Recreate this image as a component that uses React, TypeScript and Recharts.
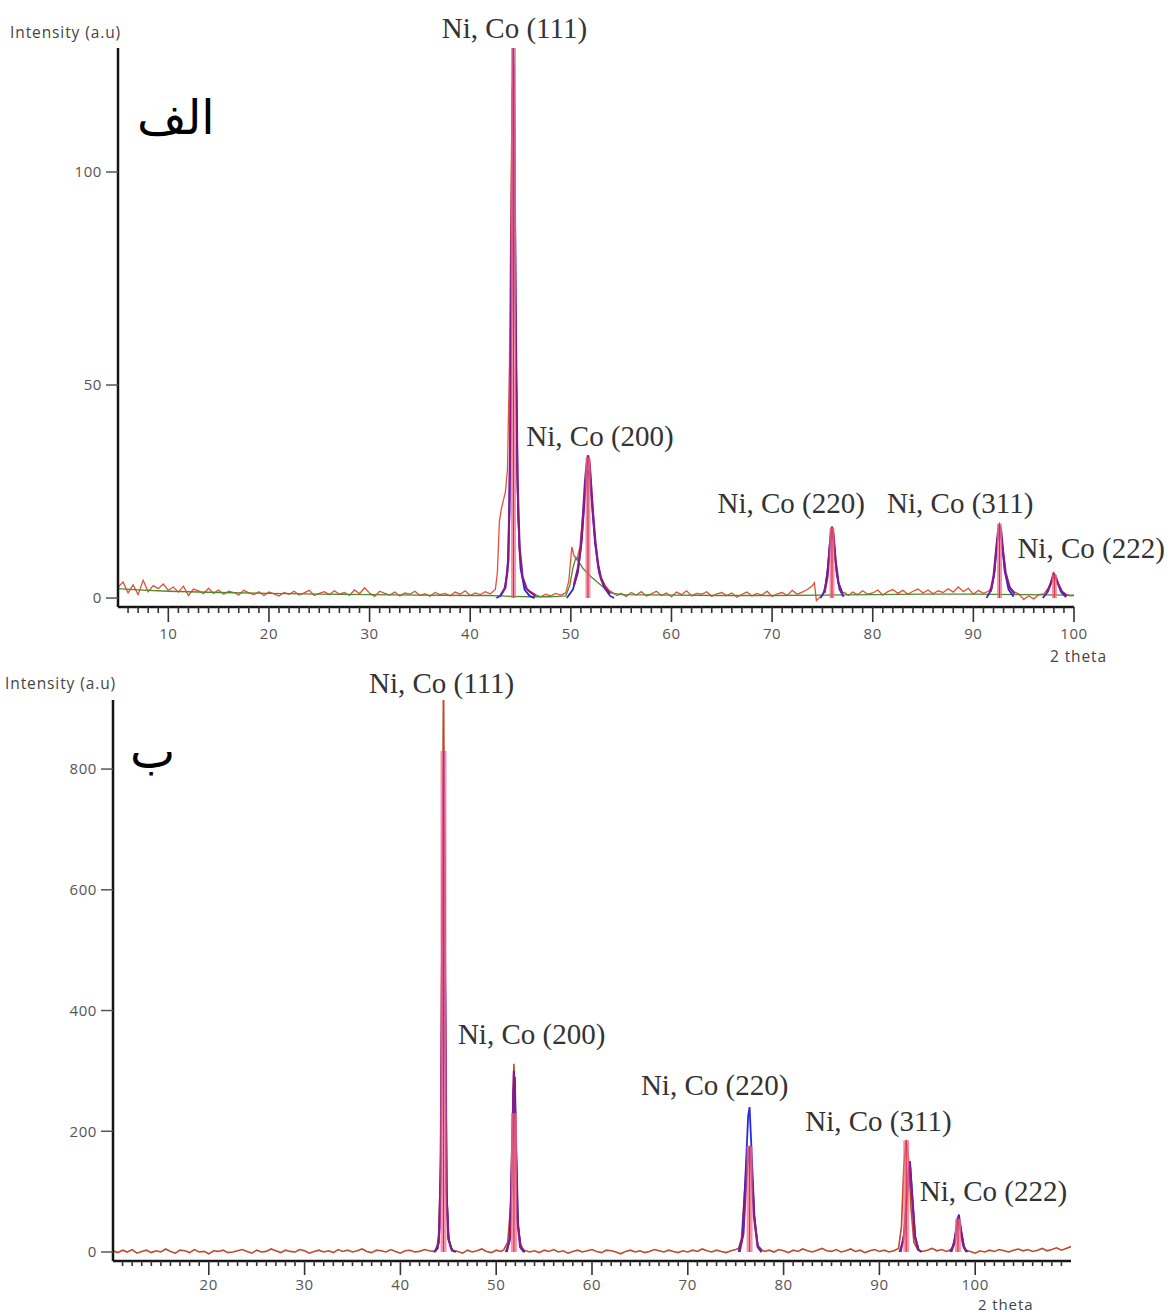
import React from 'react';
import { LineChart, Line, XAxis, YAxis, ReferenceLine, ReferenceDot } from 'recharts';

// ---- panel A (الف) : 2θ 5..100 ----
const RAW_A: [number, number][] = [
  [5, 2.5], [5.5, 3.8], [6, 1.2], [6.5, 3.1], [7, 0.8], [7.5, 4.2], [8, 1.5], [8.5, 2.9], [9, 2.2], [9.5, 3.3],
  [10, 1.8], [10.5, 2.6], [11, 1.4], [11.5, 2.8], [12, 0.6], [12.5, 2.1], [13, 1.7], [13.5, 1.0], [14, 2.3], [14.5, 1.1],
  [15, 1.9], [15.5, 0.9], [16, 1.6], [16.5, 1.3], [17, 0.7], [17.5, 1.8], [18, 1.2], [18.5, 0.8], [19, 1.5], [19.5, 0.6],
  [20, 1.4], [20.5, 1.0], [21, 0.5], [21.5, 1.3], [22, 0.9], [22.5, 1.6], [23, 0.7], [23.5, 1.2], [24, 1.8], [24.5, 0.6],
  [25, 1.1], [25.5, 1.5], [26, 0.8], [26.5, 1.7], [27, 0.9], [27.5, 1.3], [28, 0.6], [28.5, 1.9], [29, 1.0], [29.5, 2.4],
  [30, 1.2], [30.5, 0.4], [31, 1.6], [31.5, 1.1], [32, 0.7], [32.5, 1.4], [33, 0.5], [33.5, 1.2], [34, 0.9], [34.5, 1.6],
  [35, 0.6], [35.5, 1.0], [36, 0.4], [36.5, 1.3], [37, 0.8], [37.5, 1.1], [38, 0.5], [38.5, 1.4], [39, 0.9], [39.5, 1.7],
  [40, 0.6], [40.5, 1.2], [41, 0.8], [41.5, 1.5], [42, 1.0], [42.5, 2.0],
  [42.7, 6], [42.9, 18], [43.1, 21], [43.3, 23], [43.5, 25], [43.7, 30], [43.9, 55], [44.1, 105], [44.3, 140],
  [44.5, 70], [44.7, 25], [44.9, 10], [45.2, 5], [45.5, 2.5], [46, 1.5], [46.5, 0.8], [47, 0.3], [47.5, 0.9],
  [48, 0.5], [48.5, 1.1], [49, 0.7], [49.5, 1.2], [49.8, 4], [50.1, 12], [50.3, 10], [50.6, 9], [50.9, 12],
  [51.2, 20], [51.5, 29], [51.7, 33], [51.9, 31], [52.1, 24], [52.4, 14], [52.7, 8], [53, 5], [53.4, 3],
  [53.8, 1.8], [54.2, 1.2], [54.6, 0.6],
  [55, 1.1], [55.5, 0.4], [56, 1.3], [56.5, 0.7], [57, 1.5], [57.5, 0.5], [58, 1.0], [58.5, 1.6], [59, 0.6], [59.5, 1.2],
  [60, 0.3], [60.5, 1.4], [61, 0.8], [61.5, 1.7], [62, 0.5], [62.5, 1.1], [63, 0.9], [63.5, 1.5], [64, 0.4], [64.5, 1.0],
  [65, 1.3], [65.5, 0.6], [66, 1.2], [66.5, 0.2], [67, 0.9], [67.5, 1.4], [68, 0.5], [68.5, 1.1], [69, 0.7], [69.5, 1.6],
  [70, 0.4], [70.5, 1.0], [71, 1.3], [71.5, 0.6], [72, 1.8], [72.5, 0.9], [73, 1.4], [73.5, 2.0], [74, 2.9], [74.2, 3.6],
  [74.4, -0.6], [74.7, 0.1], [75, 0.7], [75.3, 3], [75.6, 9], [75.8, 15], [75.95, 16.8], [76.1, 15], [76.3, 9],
  [76.6, 3.5], [77, 1.2],
  [77.2, 1.3], [77.6, 0.6], [78, 1.4], [78.5, 0.8], [79, 1.7], [79.5, 0.9], [80, 1.2], [80.5, 1.9], [81, 0.7], [81.5, 1.5],
  [82, 2.0], [82.5, 1.1], [83, 1.8], [83.5, 0.9], [84, 1.6], [84.5, 2.1], [85, 1.2], [85.5, 1.9], [86, 1.0], [86.5, 1.7],
  [87, 1.3], [87.5, 2.2], [88, 1.4], [88.5, 2.6], [89, 1.5], [89.5, 2.3], [90, 0.9], [90.5, 1.8], [91, 1.1], [91.5, 1.6],
  [91.8, 2.5], [92.1, 6], [92.3, 12], [92.5, 17], [92.7, 16], [92.9, 12], [93.2, 6], [93.5, 3], [94, 1.5], [94.5, 1],
  [95, -0.3], [95.5, 0.5], [96, -0.2], [96.5, 0.8], [97, 1.0], [97.5, 2.5], [97.8, 4.5], [98, 6], [98.2, 5],
  [98.5, 3], [98.8, 1.5], [99.2, 0.8], [99.6, 0.5], [100, 0.6],
];

const BLUE_A: [number, number | null][] = [
  [42.6, 0], [43.0, 0.5], [43.4, 2], [43.7, 6], [43.9, 20], [44.1, 70], [44.25, 132], [44.4, 110], [44.55, 55],
  [44.75, 20], [45.0, 7], [45.4, 2], [45.9, 0.5], [46.4, 0], [47, null],
  [49.6, 0], [50.2, 2], [50.7, 6], [51.1, 14], [51.4, 24], [51.65, 30], [51.85, 29], [52.1, 22], [52.4, 13],
  [52.8, 6], [53.3, 2.5], [53.9, 0.5], [54.3, 0], [60, null],
  [74.8, 0], [75.2, 1.5], [75.5, 6], [75.75, 13], [75.95, 16], [76.15, 13], [76.4, 6], [76.7, 2], [77.1, 0.3], [80, null],
  [91.3, 0], [91.8, 2], [92.1, 6], [92.35, 13], [92.6, 16.5], [92.85, 13], [93.1, 6.5], [93.5, 2], [94, 0.3], [95, null],
  [96.9, 0], [97.4, 1.5], [97.8, 4], [98.05, 5.2], [98.3, 4], [98.7, 1.5], [99.2, 0.2],
];

const PURPLE_A: [number, number | null][] = [
  [43.0, 0.6], [43.5, 2.5], [43.8, 9], [44.0, 40], [44.2, 118], [44.35, 125], [44.5, 70], [44.7, 28], [44.9, 12],
  [45.2, 5], [45.6, 2.2], [46.0, 1.3], [46.5, 0.5], [47, null],
  [50.3, 3], [50.7, 7], [51.0, 12], [51.2, 19], [51.4, 27], [51.55, 31], [51.7, 33.5], [51.85, 32], [52.0, 27],
  [52.2, 20], [52.45, 13], [52.7, 8], [53.0, 4.5], [53.4, 2.5], [53.9, 1.0], [60, null],
  [75.2, 1.2], [75.5, 5], [75.7, 11], [75.85, 15.5], [75.95, 16.7], [76.1, 15], [76.3, 9], [76.6, 3.5], [77.0, 1.0], [80, null],
  [91.7, 1.5], [92.0, 5], [92.25, 11], [92.45, 15.5], [92.6, 17], [92.75, 16], [92.95, 11], [93.2, 6], [93.6, 2.5],
  [94.1, 1.0], [95, null],
  [97.3, 1.2], [97.7, 3.5], [97.95, 5.6], [98.15, 5.2], [98.4, 3.5], [98.8, 1.5], [99.3, 0.5],
];

const GREEN_A: [number, number][] = [
  [5, 2.2], [7, 1.9], [10, 1.6], [15, 1.3], [20, 1.1], [25, 0.9], [30, 0.8], [35, 0.7], [40, 0.6], [42, 0.6],
  [43, 0.5], [44, 0.4], [46, 0.3], [48, 0.3], [49.5, 0.5], [49.9, 3], [50.2, 7], [50.5, 9.5], [50.8, 8.5],
  [51.2, 7], [51.6, 6], [52, 5], [52.5, 4], [53, 3], [53.5, 2], [54, 1.2], [55, 0.8], [60, 0.7], [65, 0.6],
  [70, 0.6], [75, 0.7], [80, 0.8], [85, 0.9], [90, 0.9], [95, 0.8], [100, 0.7],
];

const STICKS_A: [number, number][] = [[44.3, 130], [51.7, 33], [75.95, 16.5], [92.6, 17.5], [98.05, 5.5]];

// ---- panel B (ب) : 2θ 10..110 ----
const RAW_B: [number, number][] = [
  [10, 2], [10.5, -1], [11, 3], [11.5, 0], [12, 4], [12.5, -2], [13, 1], [13.5, 3], [14, -1], [14.5, 2],
  [15, 0], [15.5, 5], [16, 1], [16.5, -2], [17, 3], [17.5, 2], [18, -1], [18.5, 4], [19, 0], [19.5, 1],
  [20, -3], [20.5, 2], [21, 1], [21.5, 3], [22, -1], [22.5, 0], [23, 2], [23.5, 4], [24, 1], [24.5, -2],
  [25, 3], [25.5, 0], [26, 1], [26.5, 5], [27, 2], [27.5, -1], [28, 3], [28.5, 1], [29, 0], [29.5, 4],
  [30, 2], [30.5, -2], [31, 1], [31.5, 3], [32, 0], [32.5, 2], [33, -1], [33.5, 4], [34, 1], [34.5, 3],
  [35, 0], [35.5, 2], [36, 5], [36.5, 1], [37, -1], [37.5, 3], [38, 2], [38.5, 0], [39, 4], [39.5, 1],
  [40, -2], [40.5, 2], [41, 3], [41.5, 0], [42, 1], [42.5, 4], [43, 2], [43.5, 1],
  [43.8, 4], [44.0, 28], [44.2, 140], [44.35, 560], [44.5, 960], [44.65, 520], [44.8, 110], [45.0, 30],
  [45.2, 9], [45.5, 3],
  [46, 1], [46.5, -2], [47, 3], [47.5, 0], [48, 2], [48.5, 5], [49, 1], [49.5, -1], [50, 3], [50.5, 1], [50.8, 4],
  [51.2, 16], [51.5, 75], [51.7, 215], [51.85, 312], [52.0, 225], [52.2, 62], [52.5, 13], [52.9, 3],
  [53.5, 0], [54, 2], [54.5, -1], [55, 3], [55.5, 1], [56, 4], [56.5, 0], [57, 2], [57.5, -2], [58, 1],
  [58.5, 3], [59, 0], [59.5, 2], [60, 4], [60.5, 1], [61, -1], [61.5, 3], [62, 2], [62.5, 0], [63, -3],
  [63.5, 1], [64, 3], [64.5, 0], [65, 2], [65.5, -1], [66, 1], [66.5, 4], [67, 2], [67.5, 0], [68, 3],
  [68.5, 1], [69, -1], [69.5, 2], [70, 0], [70.5, 3], [71, 1], [71.5, 5], [72, 2], [72.5, 0], [73, 3],
  [73.5, 1], [74, -1], [74.5, 2], [75, 4],
  [75.3, 6], [75.6, 22], [75.9, 92], [76.2, 165], [76.45, 173], [76.7, 132], [77.0, 45], [77.3, 11], [77.7, 4],
  [78, 1], [78.5, 3], [79, 0], [79.5, 4], [80, 2], [80.5, -1], [81, 3], [81.5, 1], [82, 5], [82.5, 2],
  [83, 0], [83.5, 3], [84, 6], [84.5, 2], [85, 1], [85.5, 4], [86, 0], [86.5, 2], [87, 5], [87.5, 1],
  [88, 3], [88.5, -1], [89, 2], [89.5, 4], [90, 1], [90.5, 3], [91, 0], [91.5, 2],
  [92.0, 6], [92.3, 42], [92.55, 142], [92.8, 186], [93.05, 152], [93.3, 72], [93.6, 16], [94.0, 4],
  [94.5, 1], [95, 3], [95.5, 6], [96, 2], [96.5, 4], [97, 1], [97.3, 3],
  [97.6, 6], [97.9, 26], [98.2, 56], [98.45, 44], [98.7, 13], [99.0, 3],
  [99.5, 1], [100, -2], [100.5, 2], [101, 0], [101.5, 3], [102, 1], [102.5, 4], [103, 2], [103.5, 0],
  [104, 3], [104.5, 5], [105, 2], [105.5, 4], [106, 1], [106.5, 3], [107, 6], [107.5, 2], [108, 4],
  [108.5, 7], [109, 3], [109.5, 6], [110, 9],
];

const BLUE_B: [number, number | null][] = [
  [43.5, 0], [43.9, 6], [44.1, 40], [44.25, 180], [44.4, 560], [44.55, 830], [44.7, 420], [44.85, 90],
  [45.05, 20], [45.4, 2], [45.8, 0], [47, null],
  [51.0, 0], [51.4, 18], [51.6, 110], [51.8, 270], [51.95, 290], [52.1, 170], [52.3, 40], [52.6, 6], [53.0, 0], [60, null],
  [75.3, 0], [75.7, 25], [76.0, 120], [76.3, 225], [76.45, 240], [76.65, 170], [76.95, 60], [77.3, 10], [77.7, 0], [80, null],
  [92.1, 0], [92.5, 20], [92.8, 70], [93.05, 140], [93.2, 150], [93.45, 90], [93.75, 25], [94.1, 3], [94.4, 0], [95, null],
  [97.4, 0], [97.8, 15], [98.1, 50], [98.3, 62], [98.55, 35], [98.85, 8], [99.2, 0],
];

const PURPLE_B: [number, number | null][] = [
  [43.6, 0], [44.0, 15], [44.2, 120], [44.35, 480], [44.5, 800], [44.65, 450], [44.8, 100], [45.0, 22], [45.4, 2], [47, null],
  [51.1, 0], [51.45, 25], [51.65, 160], [51.85, 300], [52.0, 210], [52.2, 55], [52.5, 8], [52.9, 0], [60, null],
  [75.4, 0], [75.8, 30], [76.1, 120], [76.4, 175], [76.6, 150], [76.9, 60], [77.3, 8], [77.7, 0], [80, null],
  [92.2, 0], [92.6, 30], [92.9, 100], [93.15, 150], [93.4, 95], [93.7, 25], [94.1, 2], [95, null],
  [97.5, 0], [97.9, 18], [98.2, 58], [98.45, 38], [98.8, 8], [99.1, 0],
];

const STICKS_B: [number, number][] = [[44.5, 830], [51.85, 230], [76.45, 175], [92.8, 185], [98.2, 55]];

const PEAKS = ['Ni, Co (111)', 'Ni, Co (200)', 'Ni, Co (220)', 'Ni, Co (311)', 'Ni, Co (222)'];
// label anchors in data units
const ANCHOR_A: [number, number][] = [[44.4, 133.8], [52.9, 38], [71.9, 22.3], [88.7, 22.3], [101.7, 11.7]];
const ANCHOR_B: [number, number][] = [[44.3, 942], [53.7, 361], [72.8, 276], [89.9, 217], [101.9, 101]];

const TICKS_A = Array.from({ length: 95 }, (_, i) => i + 6);
const TICKS_B = Array.from({ length: 99 }, (_, i) => i + 11);

const toPts = (arr: [number, number | null][]) => arr.map(([x, y]) => ({ x, y }));

const BORDER = { stroke: '#151515', strokeWidth: 2.5 };
const TICK_FONT = "'Open Sans', 'DejaVu Sans', sans-serif";
const SERIF = "'Liberation Serif', 'Times New Roman', serif";

const makeXTick = (bigLen: number, smallLen: number, labelDy: number) => (props: any) => {
  const { x, y, payload } = props;
  const major = payload.value % 10 === 0;
  return (
    <g>
      <line x1={x} x2={x} y1={y} y2={y + (major ? bigLen : smallLen)} stroke="#333" strokeWidth={1.6} />
      {major && (
        <text x={x} y={y + labelDy} textAnchor="middle" fill="#555" fontSize={15} letterSpacing={0.6} fontFamily={TICK_FONT}>
          {payload.value}
        </text>
      )}
    </g>
  );
};

const peakLabel = (text: string) => (p: any) => (
  <text x={p.cx} y={p.cy} textAnchor="middle" dominantBaseline="central" fontFamily={SERIF} fontSize={29} fill="#333">
    {text}
  </text>
);

interface PanelProps {
  width: number;
  height: number;
  margin: { top: number; right: number; bottom: number; left: number };
  xDomain: [number, number];
  yDomain: [number, number];
  yTicks: number[];
  xTicks: number[];
  raw: [number, number][];
  rawColor: string;
  rawWidth: number;
  blue: [number, number | null][];
  purple: [number, number | null][];
  green?: [number, number][];
  sticks: [number, number][];
  stickWidth: number;
  anchors: [number, number][];
  topBorder: any;
  bigTick: number;
  smallTick: number;
  labelDy: number;
}

function Panel(p: PanelProps) {
  return (
    <LineChart width={p.width} height={p.height} margin={p.margin}>
      <XAxis
        dataKey="x"
        type="number"
        domain={p.xDomain}
        allowDataOverflow
        ticks={p.xTicks}
        interval={0}
        height={40}
        tickSize={0}
        tickMargin={0}
        tickLine={false}
        axisLine={BORDER}
        tick={makeXTick(p.bigTick, p.smallTick, p.labelDy)}
      />
      <XAxis xAxisId="top" orientation="top" type="number" domain={p.xDomain} height={0} tick={false} tickLine={false} axisLine={p.topBorder} />
      <YAxis
        type="number"
        domain={p.yDomain}
        allowDataOverflow
        ticks={p.yTicks}
        width={60}
        tickSize={12}
        tickMargin={4}
        tickLine={{ stroke: '#555', strokeWidth: 1.5 }}
        axisLine={BORDER}
        tick={{ fill: '#555', fontSize: 15, fontFamily: TICK_FONT, letterSpacing: 0.6 }}
      />
      <YAxis yAxisId="right" orientation="right" type="number" domain={[0, 1]} width={0} tick={false} tickLine={false} axisLine={BORDER} />
      <Line data={toPts(p.raw)} dataKey="y" stroke={p.rawColor} strokeWidth={p.rawWidth} dot={false} isAnimationActive={false} />
      {p.green && (
        <Line data={toPts(p.green)} dataKey="y" stroke="#4f8a2c" strokeWidth={1.3} dot={false} isAnimationActive={false} />
      )}
      <Line data={toPts(p.blue)} dataKey="y" stroke="#2a2ad8" strokeWidth={1.8} dot={false} isAnimationActive={false} connectNulls={false} />
      <Line data={toPts(p.purple)} dataKey="y" stroke="#8a1a86" strokeWidth={2.2} dot={false} isAnimationActive={false} connectNulls={false} />
      {p.sticks.map(([x, h]) => (
        <ReferenceLine
          key={x}
          segment={[{ x, y: 0 }, { x, y: h }]}
          stroke="#f0708e"
          strokeOpacity={0.75}
          strokeWidth={p.stickWidth}
          ifOverflow="hidden"
        />
      ))}
      {p.sticks.map(([x, h]) => (
        <ReferenceLine key={'c' + x} segment={[{ x, y: 0 }, { x, y: h }]} stroke="#d8283c" strokeWidth={1} ifOverflow="hidden" />
      ))}
      {p.anchors.map(([x, y], i) => (
        <ReferenceDot key={PEAKS[i]} x={x} y={y} r={0} ifOverflow="visible" shape={peakLabel(PEAKS[i])} />
      ))}
    </LineChart>
  );
}

const axisTitle: React.CSSProperties = {
  position: 'absolute',
  fontFamily: TICK_FONT,
  fontSize: 15.5,
  letterSpacing: 0.9,
  color: '#444',
  whiteSpace: 'nowrap',
  lineHeight: '18px',
};

const arabic: React.CSSProperties = {
  position: 'absolute',
  fontFamily: "'DejaVu Sans', serif",
  fontSize: 48,
  direction: 'rtl',
  lineHeight: '70px',
  color: '#000',
};

export default function App() {
  return (
    <div style={{ position: 'absolute', left: 0, top: 0, width: 1172, height: 1314, background: '#fff', overflow: 'hidden' }}>
      <div style={{ position: 'absolute', left: 0, top: 0 }}>
        <Panel
          width={1172}
          height={660}
          margin={{ top: 48, right: 98, bottom: 13, left: 58 }}
          xDomain={[5, 100]}
          yDomain={[-2.1, 129.1]}
          yTicks={[0, 50, 100]}
          xTicks={TICKS_A}
          raw={RAW_A}
          rawColor="#e2503a"
          rawWidth={1.3}
          blue={BLUE_A}
          purple={PURPLE_A}
          green={GREEN_A}
          sticks={STICKS_A}
          stickWidth={5}
          anchors={ANCHOR_A}
          topBorder={BORDER}
          bigTick={15}
          smallTick={6}
          labelDy={32}
        />
      </div>
      <div style={{ position: 'absolute', left: 0, top: 660 }}>
        <Panel
          width={1172}
          height={654}
          margin={{ top: 40, right: 101, bottom: 13, left: 53 }}
          xDomain={[10, 110]}
          yDomain={[-14.9, 914.4]}
          yTicks={[0, 200, 400, 600, 800]}
          xTicks={TICKS_B}
          raw={RAW_B}
          rawColor="#bf4a2c"
          rawWidth={1.6}
          blue={BLUE_B}
          purple={PURPLE_B}
          sticks={STICKS_B}
          stickWidth={6}
          anchors={ANCHOR_B}
          topBorder={{ stroke: '#8a8a8a', strokeWidth: 1.5 }}
          bigTick={14}
          smallTick={5}
          labelDy={29}
        />
      </div>
      <div style={{ ...axisTitle, left: 10, top: 23 }}>Intensity (a.u)</div>
      <div style={{ ...axisTitle, left: 1050, top: 647 }}>2 theta</div>
      <div style={{ ...axisTitle, left: 5, top: 674 }}>Intensity (a.u)</div>
      <div style={{ ...axisTitle, left: 978, top: 1296, fontSize: 15, lineHeight: '16px' }}>2 theta</div>
      <div style={{ ...arabic, left: 137, top: 82 }}>الف</div>
      <div style={{ ...arabic, left: 130, top: 716 }}>ب</div>
    </div>
  );
}
